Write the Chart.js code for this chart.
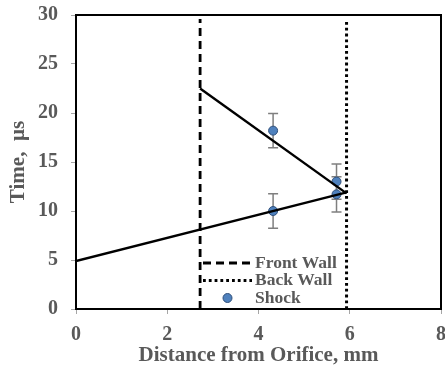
<!DOCTYPE html>
<html>
<head>
<meta charset="utf-8">
<script src="https://cdn.jsdelivr.net/npm/chart.js@4.4.1/dist/chart.umd.min.js"></script>
<style>
  html, body { margin: 0; padding: 0; background: #fff; }
  #wrap { width: 445px; height: 370px; }
</style>
</head>
<body>
<div id="wrap"><canvas id="chart" width="445" height="370"></canvas></div>
<script>
// shock measurements (distance mm, time µs, error bar half-height)
const shockX = [4.32, 4.32, 5.71, 5.71];
const shockY = [18.2, 10.0, 13.0, 11.7];
const shockErr = [1.75, 1.75, 1.8, 1.8];

// wall positions
const frontWallX = [2.72, 2.72];
const backWallX = [5.93, 5.93];
const wallY = [0, 29.6];

// fitted lines
const upperFitX = [2.72, 5.93];
const upperFitY = [22.5, 11.8];
const lowerFitX = [0, 5.93];
const lowerFitY = [4.9, 11.9];

const xTicks = [0, 2, 4, 6, 8];
const yTicks = [0, 5, 10, 15, 20, 25, 30];

const textColor = '#595959';
const serif = '"Liberation Serif", "Times New Roman", serif';

function pts(xs, ys) {
    return xs.map((x, i) => ({ x: x, y: ys[i] }));
}

// fixed box sizes, no extra padding for overflowing tick labels
function fixBox(s, key, size) {
    s[key] = size;
    s.paddingTop = 0;
    s.paddingBottom = 0;
    s.paddingLeft = 0;
    s.paddingRight = 0;
}

// error bars under the shock markers
const errorBars = {
    id: 'errorBars',
    beforeDatasetDraw(chart, args) {
        if (chart.data.datasets[args.index].label !== 'Shock') return;
        const ctx = chart.ctx;
        const xs = chart.scales.x, ys = chart.scales.y;
        ctx.save();
        ctx.strokeStyle = '#7f7f7f';
        ctx.lineWidth = 1.5;
        shockX.forEach((x, i) => {
            const px = xs.getPixelForValue(x);
            const top = ys.getPixelForValue(shockY[i] + shockErr[i]);
            const bot = ys.getPixelForValue(shockY[i] - shockErr[i]);
            ctx.beginPath();
            ctx.moveTo(px, top); ctx.lineTo(px, bot);
            ctx.moveTo(px - 5, top); ctx.lineTo(px + 5, top);
            ctx.moveTo(px - 5, bot); ctx.lineTo(px + 5, bot);
            ctx.stroke();
        });
        ctx.restore();
    }
};

// closed frame + legend inside the plot
const frameAndLegend = {
    id: 'frameAndLegend',
    afterDraw(chart) {
        const ctx = chart.ctx;
        const a = chart.chartArea;
        ctx.save();
        ctx.strokeStyle = '#000';
        ctx.lineWidth = 2;
        ctx.beginPath();
        ctx.moveTo(a.left, a.top);
        ctx.lineTo(a.right, a.top);
        ctx.lineTo(a.right, a.bottom);
        ctx.stroke();

        const items = chart.data.datasets.filter(d => d.inLegend);
        const x0 = 203, x1 = 252, tx = 255;
        let y = 263;
        ctx.font = 'bold 17.5px ' + serif;
        ctx.textBaseline = 'middle';
        items.forEach(d => {
            if (d.showLine === false) {
                ctx.fillStyle = d.backgroundColor;
                ctx.strokeStyle = d.borderColor;
                ctx.lineWidth = 1;
                ctx.beginPath();
                ctx.arc((x0 + x1) / 2, y, 4.5, 0, Math.PI * 2);
                ctx.fill();
                ctx.stroke();
            } else {
                ctx.strokeStyle = d.borderColor;
                ctx.lineWidth = d.borderWidth;
                ctx.setLineDash(d.borderDash || []);
                ctx.beginPath();
                ctx.moveTo(x0, y); ctx.lineTo(x1, y);
                ctx.stroke();
                ctx.setLineDash([]);
            }
            ctx.fillStyle = textColor;
            ctx.fillText(d.label, tx, y);
            y += 17.5;
        });
        ctx.restore();
    }
};

const ctx = document.getElementById('chart').getContext('2d');

new Chart(ctx, {
    type: 'scatter',
    data: {
        datasets: [
            {
                label: 'Upper fit',
                data: pts(upperFitX, upperFitY),
                showLine: true,
                borderColor: '#000',
                borderWidth: 2.4,
                pointRadius: 0
            },
            {
                label: 'Lower fit',
                data: pts(lowerFitX, lowerFitY),
                showLine: true,
                borderColor: '#000',
                borderWidth: 2.4,
                pointRadius: 0
            },
            {
                label: 'Front Wall',
                inLegend: true,
                data: pts(frontWallX, wallY),
                showLine: true,
                borderColor: '#000',
                borderWidth: 2.8,
                borderDash: [8, 5],
                pointRadius: 0
            },
            {
                label: 'Back Wall',
                inLegend: true,
                data: pts(backWallX, wallY),
                showLine: true,
                borderColor: '#000',
                borderWidth: 3,
                borderDash: [2.8, 3],
                pointRadius: 0
            },
            {
                label: 'Shock',
                inLegend: true,
                data: pts(shockX, shockY),
                showLine: false,
                backgroundColor: '#4f81bd',
                borderColor: '#2f4f7a',
                borderWidth: 1,
                pointRadius: 4.5
            }
        ]
    },
    options: {
        responsive: false,
        animation: false,
        layout: { autoPadding: false, padding: { top: 15, right: 4, left: 0, bottom: 0 } },
        plugins: {
            legend: { display: false },
            tooltip: { enabled: false }
        },
        scales: {
            x: {
                type: 'linear',
                min: 0,
                max: 8,
                afterBuildTicks: s => { s.ticks = xTicks.map(v => ({ value: v })); },
                afterFit: s => fixBox(s, 'height', 61),
                ticks: {
                    color: textColor,
                    font: { family: serif, size: 20, weight: 'bold' },
                    padding: 9
                },
                grid: { drawOnChartArea: false, tickLength: 5, tickColor: '#a6a6a6' },
                border: { color: '#000', width: 2 },
                title: {
                    display: true,
                    text: 'Distance from Orifice, mm',
                    color: textColor,
                    font: { family: serif, size: 21, weight: 'bold' },
                    padding: { top: 0, bottom: 2 }
                }
            },
            y: {
                type: 'linear',
                min: 0,
                max: 30,
                afterBuildTicks: s => { s.ticks = yTicks.map(v => ({ value: v })); },
                afterFit: s => fixBox(s, 'width', 76),
                ticks: {
                    color: textColor,
                    font: { family: serif, size: 20, weight: 'bold' },
                    padding: 13
                },
                grid: { drawOnChartArea: false, tickLength: 5, tickColor: '#a6a6a6' },
                border: { color: '#000', width: 2 },
                title: {
                    display: true,
                    text: 'Time,  µs',
                    color: textColor,
                    font: { family: serif, size: 21, weight: 'bold' },
                    padding: { top: 6, bottom: 0 }
                }
            }
        }
    },
    plugins: [errorBars, frameAndLegend]
});
</script>
</body>
</html>
